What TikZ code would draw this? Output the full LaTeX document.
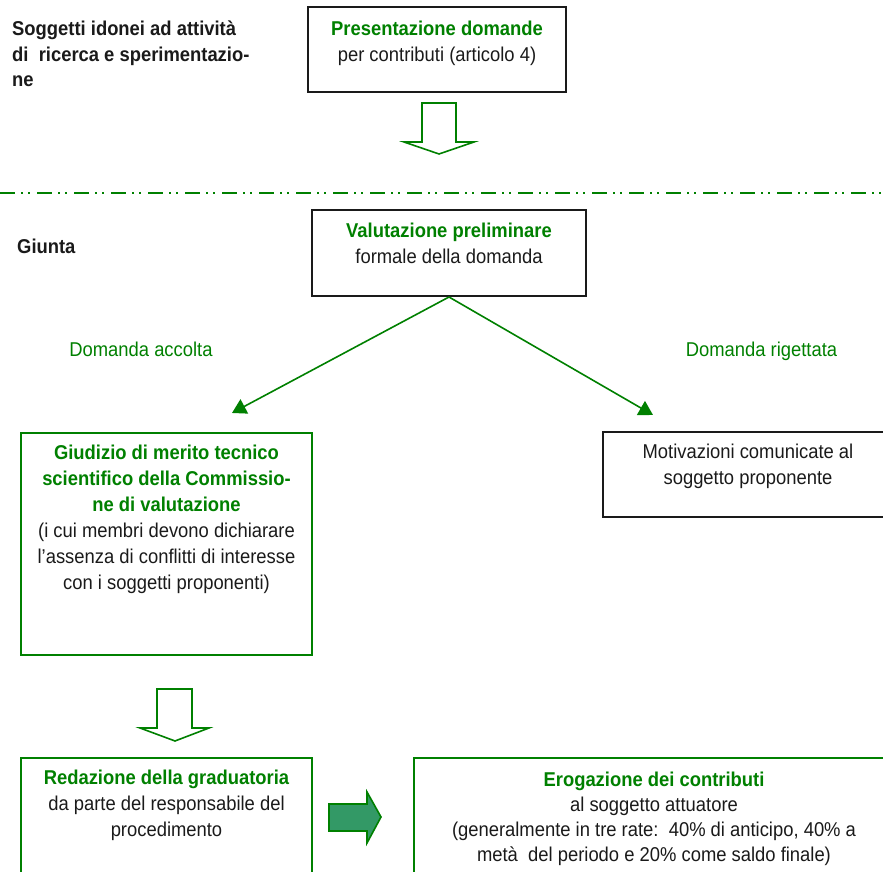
\documentclass[tikz,border=0pt]{standalone}
\usepackage{fontspec}
\setmainfont[FakeStretch=0.92]{Liberation Sans}
\usetikzlibrary{arrows.meta}
\definecolor{flowgreen}{RGB}{0,128,0}
\definecolor{blockfill}{RGB}{51,153,102}
\definecolor{ink}{RGB}{26,26,26}

\begin{document}
\begin{tikzpicture}[x=1pt,y=1pt,
  txt/.style={inner sep=0pt, font=\fontsize{20}{26}\selectfont, text=ink, align=center},
  lbl/.style={inner sep=0pt, font=\fontsize{20}{26}\selectfont, text=flowgreen},
  blackbox/.style={draw=ink, line width=2pt, inner sep=0pt},
  greenbox/.style={draw=flowgreen, line width=2pt, inner sep=0pt},
  link/.style={draw=flowgreen, line width=1.6pt, -{Triangle[length=14pt,width=16pt]}},
  hollowarrow/.style={draw=flowgreen, line width=1.6pt, fill=white, line join=miter},
  blockarrow/.style={draw=flowgreen, line width=1.6pt, fill=blockfill, line join=miter}
]
\useasboundingbox (0,0) rectangle (883,872);

% who submits (multi-line nodes are anchored on the baseline of their last line)
\node[txt, font=\fontsize{20}{25.5}\selectfont\bfseries, align=left, anchor=base west]
  (soggetti) at (12,785) {Soggetti idonei ad attività\\di\ \ ricerca e sperimentazio-\\ne};

% submission box
\node[blackbox, minimum width=258pt, minimum height=85pt] (pres) at (437,822.5) {};
\node[txt, anchor=base] (presT) at (437,810)
  {\textcolor{flowgreen}{\bfseries Presentazione domande}\\per contributi (articolo 4)};

% hollow arrow down to the next phase
\draw[hollowarrow] (422,769) -- (456,769) -- (456,730) -- (474,730) -- (439,718)
  -- (404,730) -- (422,730) -- cycle;

% separator
\coordinate (sepL) at (0,679);
\coordinate (sepR) at (883,679);
\draw[flowgreen, line width=2.5pt,
  dash pattern=on 15pt off 6pt on 2pt off 5pt on 2pt off 7pt] (sepL) -- (sepR);

\node[txt, font=\fontsize{20}{26}\selectfont\bfseries, anchor=base west] (giunta) at (17,618) {Giunta};

% preliminary evaluation
\node[blackbox, minimum width=274pt, minimum height=86pt] (val) at (449,619) {};
\node[txt, anchor=base] (valT) at (449,608)
  {\textcolor{flowgreen}{\bfseries Valutazione preliminare}\\formale della domanda};

\coordinate (accTip) at (232,459);
\coordinate (rigTip) at (653,457);
\draw[link] (val.south) -- (accTip);
\draw[link] (val.south) -- (rigTip);

\node[lbl, anchor=base] (acc) at (141,515) {Domanda accolta};
\node[lbl, anchor=base] (rig) at (761.5,515) {Domanda rigettata};

% technical-scientific review
\node[greenbox, minimum width=291pt, minimum height=222pt] (giud) at (166.5,328) {};
\node[txt, anchor=base] (giudT) at (166.5,282)
  {\textcolor{flowgreen}{\bfseries Giudizio di merito tecnico}\\
   \textcolor{flowgreen}{\bfseries scientifico della Commissio-}\\
   \textcolor{flowgreen}{\bfseries ne di valutazione}\\
   (i cui membri devono dichiarare\\
   l’assenza di conflitti di interesse\\
   con i soggetti proponenti)};

% rejection notice
\node[blackbox, minimum width=290pt, minimum height=85pt] (mot) at (748,397.5) {};
\node[txt, anchor=base] (motT) at (748,387)
  {Motivazioni comunicate al\\soggetto proponente};

% hollow arrow down to the ranking
\draw[hollowarrow] (157,183) -- (192,183) -- (192,144) -- (209,144) -- (175,131)
  -- (140,144) -- (157,144) -- cycle;

% ranking
\node[greenbox, minimum width=291pt, minimum height=124pt] (red) at (166.5,52) {};
\node[txt, anchor=base] (redT) at (166.5,35)
  {\textcolor{flowgreen}{\bfseries Redazione della graduatoria}\\
   da parte del responsabile del\\procedimento};

% filled arrow to the payment box
\draw[blockarrow] (329,68) -- (367,68) -- (367,80) -- (381,55) -- (367,29)
  -- (367,41) -- (329,41) -- cycle;

% payment
\node[greenbox, minimum width=480pt, minimum height=124pt] (ero) at (654,52) {};
\node[txt, font=\fontsize{20}{25}\selectfont, anchor=base] (eroT) at (654,10)
  {\textcolor{flowgreen}{\bfseries Erogazione dei contributi}\\
   al soggetto attuatore\\
   (generalmente in tre rate:\ \ 40\% di anticipo, 40\% a\\
   metà\ \ del periodo e 20\% come saldo finale)};
\end{tikzpicture}
\end{document}
